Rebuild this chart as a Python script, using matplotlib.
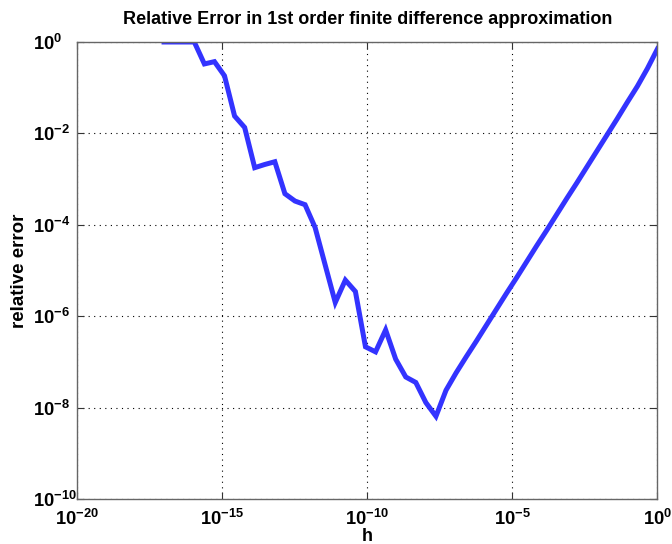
import numpy as np
import matplotlib
matplotlib.use("Agg")
import matplotlib.pyplot as plt
from matplotlib.ticker import FixedLocator, FuncFormatter, NullLocator

plt.rcParams['font.family'] = ['Liberation Sans', 'DejaVu Sans']
plt.rcParams['mathtext.fontset'] = 'custom'
plt.rcParams['mathtext.rm'] = 'Liberation Sans:bold'
plt.rcParams['mathtext.bf'] = 'Liberation Sans:bold'
plt.rcParams['mathtext.it'] = 'Liberation Sans:bold'

# log10 of step size h (50 points from 1e-17 to 1e0)
log_h = [-17.000, -16.653, -16.306, -15.959, -15.612, -15.265, -14.918, -14.571,
         -14.224, -13.878, -13.531, -13.184, -12.837, -12.490, -12.143, -11.796,
         -11.449, -11.102, -10.755, -10.408, -10.061, -9.714, -9.367, -9.020,
         -8.673, -8.327, -7.980, -7.633, -7.286, -6.939, -6.592, -6.245,
         -5.898, -5.551, -5.204, -4.857, -4.510, -4.163, -3.816, -3.469,
         -3.122, -2.776, -2.429, -2.082, -1.735, -1.388, -1.041, -0.694,
         -0.347, 0.000]
# log10 of relative error
log_err = [0.00, 0.00, 0.00, 0.00, -0.48, -0.43, -0.74, -1.62,
           -1.87, -2.75, -2.68, -2.62, -3.32, -3.48, -3.56, -4.06,
           -4.88, -5.70, -5.21, -5.46, -6.67, -6.78, -6.30, -6.94,
           -7.33, -7.45, -7.89, -8.19, -7.62, -7.24, -6.89, -6.55,
           -6.20, -5.85, -5.50, -5.16, -4.81, -4.46, -4.12, -3.77,
           -3.42, -3.08, -2.73, -2.38, -2.03, -1.68, -1.32, -0.97,
           -0.58, -0.15]

x_ticks = [1e-20, 1e-15, 1e-10, 1e-5, 1e0]
y_ticks = [1e-10, 1e-8, 1e-6, 1e-4, 1e-2, 1e0]

h = 10.0 ** np.array(log_h)
err = 10.0 ** np.array(log_err)

fig = plt.figure(figsize=(6.72, 5.44), dpi=100)
ax = fig.add_axes([0.1146, 0.0827, 0.8638, 0.8401])
ax.loglog(h, err, color='#3333ff', lw=3.6, solid_joinstyle='miter', clip_on=True)

ax.set_xlim(1e-20, 1e0)
ax.set_ylim(1e-10, 1e0)
ax.xaxis.set_major_locator(FixedLocator(x_ticks))
ax.yaxis.set_major_locator(FixedLocator(y_ticks))
ax.xaxis.set_minor_locator(NullLocator())
ax.yaxis.set_minor_locator(NullLocator())

def fmt(v, pos):
    e = int(round(np.log10(v)))
    return r'$\mathbf{10^{%d}}$' % e

ax.xaxis.set_major_formatter(FuncFormatter(fmt))
ax.yaxis.set_major_formatter(FuncFormatter(fmt))

ax.tick_params(which='both', direction='in', top=True, right=True, length=5,
               width=0.8, color='#333333', labelsize=13.2)
ax.tick_params(axis='y', pad=31.5)
ax.tick_params(axis='x', pad=7)
for lbl in ax.get_yticklabels():
    lbl.set_horizontalalignment('left')
ax.grid(True, which='major', linestyle=(0, (1, 4)), color='black', linewidth=0.8)
for s in ax.spines.values():
    s.set_color('#666666')
    s.set_linewidth(1.0)

ax.set_title('Relative Error in 1st order finite difference approximation',
             fontsize=13, fontweight='bold', pad=13)
ax.set_xlabel('h', fontsize=13, fontweight='bold')
ax.xaxis.set_label_coords(0.5, -0.064)
ax.set_ylabel('relative error', fontsize=13.5, fontweight='bold')
ax.yaxis.set_label_coords(-0.085, 0.5)

fig.savefig('out.png', dpi=100)
